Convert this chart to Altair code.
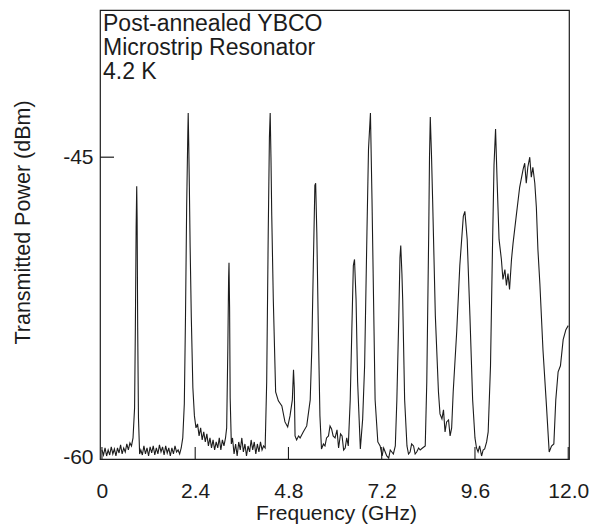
import altair as alt
import pandas as pd

# Trace (frequency in GHz, transmitted power in dBm)
freq = [
    0.00, 0.04, 0.08, 0.12, 0.16, 0.20, 0.24, 0.28, 0.32, 0.36, 0.40, 0.44, 0.48, 0.52, 0.56, 0.60, 0.64, 0.68, 0.72, 0.76,
    0.80, 0.84, 0.86, 0.88, 0.895, 0.905, 0.92, 0.94, 0.97,
    1.00, 1.04, 1.08, 1.12, 1.16, 1.20, 1.24, 1.28, 1.32, 1.36, 1.40, 1.44, 1.48, 1.52, 1.56, 1.60, 1.64, 1.68, 1.72, 1.76,
    1.80, 1.84, 1.88, 1.92, 1.96, 2.00, 2.04,
    2.08, 2.12, 2.15, 2.18, 2.21, 2.22, 2.235, 2.25, 2.27, 2.30, 2.34, 2.38, 2.42,
    2.46, 2.50, 2.54, 2.58, 2.62, 2.66, 2.70, 2.74, 2.78, 2.82, 2.86, 2.90, 2.94, 2.98, 3.02, 3.06, 3.10, 3.14, 3.18,
    3.21, 3.24, 3.26, 3.27, 3.285, 3.30, 3.33,
    3.36, 3.40, 3.44, 3.48, 3.52, 3.56, 3.60, 3.64, 3.68, 3.72, 3.76, 3.80, 3.84, 3.88, 3.92, 3.96, 4.00, 4.04, 4.08, 4.12, 4.16,
    4.20, 4.24, 4.28, 4.31, 4.33, 4.35, 4.37, 4.41, 4.47, 4.54, 4.63, 4.71, 4.78, 4.84, 4.90, 4.93, 4.95, 4.97, 5.01, 5.06,
    5.10, 5.18, 5.27, 5.36, 5.40, 5.44, 5.48, 5.50, 5.53, 5.57, 5.61, 5.65, 5.70, 5.74, 5.78, 5.83, 5.87, 5.91, 5.95, 6.00,
    6.05, 6.09, 6.14, 6.18, 6.22, 6.26, 6.30, 6.34,
    6.39, 6.43, 6.47, 6.50, 6.54, 6.58, 6.65,
    6.71, 6.76, 6.82, 6.86, 6.91, 6.95, 6.99, 7.03, 7.10, 7.16, 7.21, 7.25, 7.29, 7.33, 7.38, 7.42, 7.46, 7.50, 7.55,
    7.59, 7.64, 7.67, 7.69, 7.72, 7.74, 7.79, 7.85, 7.89, 7.93, 7.97, 8.02, 8.06, 8.10, 8.15, 8.19, 8.25, 8.32,
    8.36, 8.41, 8.43, 8.45, 8.48, 8.51, 8.58, 8.66, 8.70, 8.75, 8.79, 8.83, 8.87, 8.92, 8.96, 9.00,
    9.04, 9.13, 9.21, 9.30, 9.34, 9.40, 9.47, 9.54, 9.60, 9.64, 9.68, 9.72, 9.77, 9.81, 9.85, 9.90, 9.94,
    10.00, 10.05, 10.09, 10.13, 10.17, 10.22, 10.28, 10.32, 10.37, 10.41, 10.45, 10.49, 10.54, 10.58, 10.67, 10.75,
    10.84, 10.88, 10.92, 10.96, 11.01, 11.05, 11.09, 11.14, 11.18, 11.22, 11.27, 11.35, 11.44, 11.51, 11.57, 11.63,
    11.68, 11.74, 11.80, 11.87, 11.94, 12.00,
]
power = [
    -59.6, -59.85, -59.5, -59.9, -59.6, -59.85, -59.45, -59.8, -59.55, -59.9, -59.5, -59.75, -59.35, -59.8, -59.5, -59.7, -59.3, -59.6, -59.25, -59.4,
    -59.0, -57.5, -53.5, -48.5, -46.45, -48.0, -53.5, -58.0, -59.8,
    -59.6, -59.85, -59.4, -59.8, -59.5, -59.9, -59.45, -59.75, -59.4, -59.85, -59.5, -59.8, -59.35, -59.7, -59.45, -59.85, -59.4, -59.75, -59.5, -59.9,
    -59.5, -59.8, -59.4, -59.7, -59.6, -59.8, -59.5,
    -59.0, -57.3, -53.0, -47.5, -43.8, -42.8, -44.5, -46.5, -49.5, -53.0, -56.5, -57.9, -58.5,
    -58.3, -58.9, -58.5, -59.1, -58.7, -59.2, -58.8, -59.4, -59.0, -59.5, -59.1, -59.6, -59.2, -59.5, -59.0, -59.6, -59.1, -59.4, -59.0,
    -58.5, -54.5, -51.0, -50.26, -52.5, -57.0, -59.3,
    -59.0, -59.8, -59.3, -59.9, -59.2, -59.6, -59.0, -59.7, -59.3, -59.9, -59.4, -59.7, -59.1, -59.6, -59.2, -59.8, -59.3, -59.7, -59.2, -59.6, -59.4,
    -59.5, -56.2, -48.7, -44.0, -42.8, -45.0, -47.9, -52.1, -56.7, -57.15, -57.4, -58.2, -58.45, -57.9, -57.1, -55.6, -56.5, -58.9, -59.1, -58.9,
    -59.0, -58.7, -58.4, -57.1, -54.6, -50.4, -46.4, -46.3, -48.75, -53.7, -57.9, -59.55, -59.3, -59.4, -59.0, -58.9, -58.4, -58.55, -58.9, -59.0,
    -58.6, -59.5, -58.8, -58.9, -59.6, -59.5, -59.0, -59.4,
    -57.1, -53.7, -50.4, -50.1, -52.1, -56.2, -59.55,
    -58.05, -55.4, -48.75, -44.6, -42.8, -47.1, -52.1, -57.1, -59.2, -59.4, -59.9, -59.5, -59.7, -59.9, -60.0, -59.6, -59.7, -59.8, -59.4,
    -57.1, -52.9, -50.0, -49.4, -50.8, -52.1, -57.1, -59.4, -59.8, -59.7, -59.3, -59.4, -59.8, -59.7, -59.5, -59.6, -59.5, -59.4,
    -56.2, -48.75, -45.0, -43.0, -44.8, -47.1, -52.9, -56.7, -57.8, -58.05, -57.6, -58.7, -58.2, -58.1, -58.9, -58.5,
    -56.7, -53.7, -50.4, -47.95, -47.7, -49.1, -52.9, -57.1, -59.0, -59.5, -59.7, -59.4, -59.9, -59.6, -59.55, -59.2, -58.7,
    -55.4, -49.6, -45.4, -43.6, -46.2, -49.1, -50.1, -51.1, -50.6, -51.4, -50.8, -51.6, -50.1, -49.3, -47.8, -46.5,
    -45.6, -45.3, -46.3, -45.5, -45.0, -46.0, -45.5, -46.3, -47.5, -49.6, -51.3, -54.6, -57.4, -59.7, -59.4, -59.3,
    -57.1, -55.7, -55.4, -54.1, -53.6, -53.4,
]

x_ticks = [0, 2.4, 4.8, 7.2, 9.6, 12.0]
y_ticks = [-60, -45]
note = "Post-annealed YBCO\nMicrostrip Resonator\n4.2 K"

FONT = "Liberation Sans"
INK = "#1c1c1c"
W, H = 469, 449

trace = pd.DataFrame({"f": freq, "p": power})
xt = pd.DataFrame({"f": x_ticks})
yt = pd.DataFrame({"p": [-45]})
nt = pd.DataFrame({"t": [note]})

xscale = alt.Scale(domain=[-0.05, 12.02], nice=False, zero=False)
yscale = alt.Scale(domain=[-60.05, -37.66], nice=False, zero=False)

xaxis = alt.Axis(values=x_ticks, title="Frequency (GHz)",
                 labelExpr="datum.value == 0 ? '0' : format(datum.value, '.1f')",
                 ticks=False, tickSize=0, domain=False, grid=False, labelFlush=False,
                 labelPadding=21, labelFontSize=21, labelFont=FONT, labelColor=INK,
                 titleFont=FONT, titleFontSize=21, titleFontWeight="normal", titleColor=INK,
                 titleX=236, titleY=54, titleBaseline="middle")
yaxis = alt.Axis(values=y_ticks, title="Transmitted Power (dBm)",
                 labelExpr="replace(datum.label, '\u2212', '-')",
                 ticks=False, tickSize=0, domain=False, grid=False, labelFlush=False,
                 labelPadding=7, labelFontSize=21, labelFont=FONT, labelColor=INK,
                 titleFont=FONT, titleFontSize=21.5, titleFontWeight="normal", titleColor=INK,
                 titleX=-77, titleY=212, titleBaseline="middle", titleAlign="center")

line = alt.Chart(trace).mark_line(color=INK, strokeWidth=1.1).encode(
    x=alt.X("f:Q", scale=xscale, axis=xaxis),
    y=alt.Y("p:Q", scale=yscale, axis=yaxis),
)

xtick_marks = alt.Chart(xt).mark_rule(color=INK, strokeWidth=1.1).encode(
    x=alt.X("f:Q", scale=xscale, axis=xaxis),
    y=alt.value(H), y2=alt.value(H - 12),
)

ytick_marks = alt.Chart(yt).mark_rule(color=INK, strokeWidth=1.2).encode(
    y=alt.Y("p:Q", scale=yscale, axis=yaxis),
    x=alt.value(0), x2=alt.value(14),
)

label = alt.Chart(nt).mark_text(
    align="left", baseline="top", font=FONT, fontSize=23, color=INK,
    lineBreak="\n", lineHeight=24,
).encode(x=alt.value(3), y=alt.value(3), text="t:N")

chart = alt.layer(line, xtick_marks, ytick_marks, label).properties(
    width=W, height=H,
    background="white",
    autosize=alt.AutoSizeParams(type="none"),
    padding={"left": 92, "top": 2, "right": 20, "bottom": 65},
).configure_view(stroke=INK, strokeWidth=1.2)

chart.save("out.html", embed_options={"renderer": "svg", "actions": False})
